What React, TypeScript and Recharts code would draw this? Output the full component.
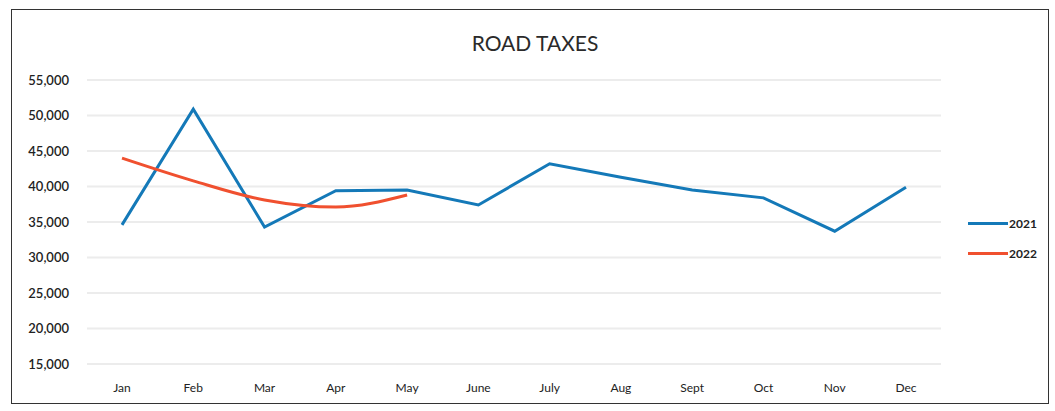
import React from 'react';
import { LineChart, Line, XAxis, YAxis, CartesianGrid, Legend } from 'recharts';

const months = ['Jan', 'Feb', 'Mar', 'Apr', 'May', 'June', 'July', 'Aug', 'Sept', 'Oct', 'Nov', 'Dec'];
const taxes2021 = [34600, 50900, 34300, 39400, 39500, 37400, 43200, 41300, 39500, 38400, 33700, 39900];
const taxes2022 = [44000, 40800, 38100, 37100, 38800];
const yTicks = [15000, 20000, 25000, 30000, 35000, 40000, 45000, 50000, 55000];

const BLUE = '#1479b8';
const RED = '#f0502f';
const FONT = 'Lato, "Open Sans", sans-serif';

const data = months.map((m, i) => ({
  month: m,
  y2021: taxes2021[i],
  y2022: i < taxes2022.length ? taxes2022[i] : null,
}));

const fmt = (v: number) => v.toLocaleString('en-US');

// legend sits to the right of the plot, stacked
const renderLegend = () => (
  <div style={{ fontFamily: FONT, fontSize: 12, fontWeight: 700, color: '#222' }}>
    {[
      { label: '2021', color: BLUE },
      { label: '2022', color: RED },
    ].map((it) => (
      <div key={it.label} style={{ display: 'flex', alignItems: 'center', height: 30 }}>
        <span style={{ display: 'inline-block', width: 40, height: 3, background: it.color, marginRight: 1 }} />
        <span>{it.label}</span>
      </div>
    ))}
  </div>
);

export default function App() {
  return (
    <div style={{ position: 'absolute', left: 0, top: 0, width: 1055, height: 411, background: '#fff' }}>
      <div
        style={{
          position: 'absolute',
          left: 11,
          top: 9,
          width: 1038,
          height: 395,
          border: '1.5px solid #333',
          boxSizing: 'border-box',
        }}
      />
      <div
        style={{
          position: 'absolute',
          left: 0,
          width: 1070,
          top: 30,
          textAlign: 'center',
          fontFamily: FONT,
          fontSize: 21,
          color: '#2a2a2a',
        }}
      >
        ROAD TAXES
      </div>
      <LineChart
        width={1055}
        height={411}
        data={data}
        margin={{ top: 80, right: 34, bottom: 17, left: 17 }}
        style={{ position: 'absolute', left: 0, top: 0 }}
      >
        <CartesianGrid vertical={false} stroke="#ececec" strokeWidth={2} />
        <XAxis
          dataKey="month"
          axisLine={false}
          tickLine={false}
          tickSize={0}
          tickMargin={19}
          height={30}
          interval={0}
          padding={{ left: 35, right: 35 }}
          tick={{ fontFamily: FONT, fontSize: 12, fill: '#222' }}
        />
        <YAxis
          domain={[15000, 55000]}
          ticks={yTicks}
          axisLine={false}
          tickLine={false}
          tickSize={0}
          tickMargin={18}
          width={70}
          tickFormatter={fmt}
          tick={{ fontFamily: FONT, fontSize: 13, fill: '#222', fontWeight: 600 }}
        />
        <Legend
          layout="horizontal"
          verticalAlign="middle"
          align="right"
          content={renderLegend}
          wrapperStyle={{ position: 'absolute', left: 968, top: 208, width: 80 }}
        />
        <Line
          type="linear"
          dataKey="y2021"
          stroke={BLUE}
          strokeWidth={3}
          dot={false}
          isAnimationActive={false}
        />
        <Line
          type="monotone"
          dataKey="y2022"
          stroke={RED}
          strokeWidth={3}
          dot={false}
          connectNulls={false}
          isAnimationActive={false}
        />
      </LineChart>
    </div>
  );
}
